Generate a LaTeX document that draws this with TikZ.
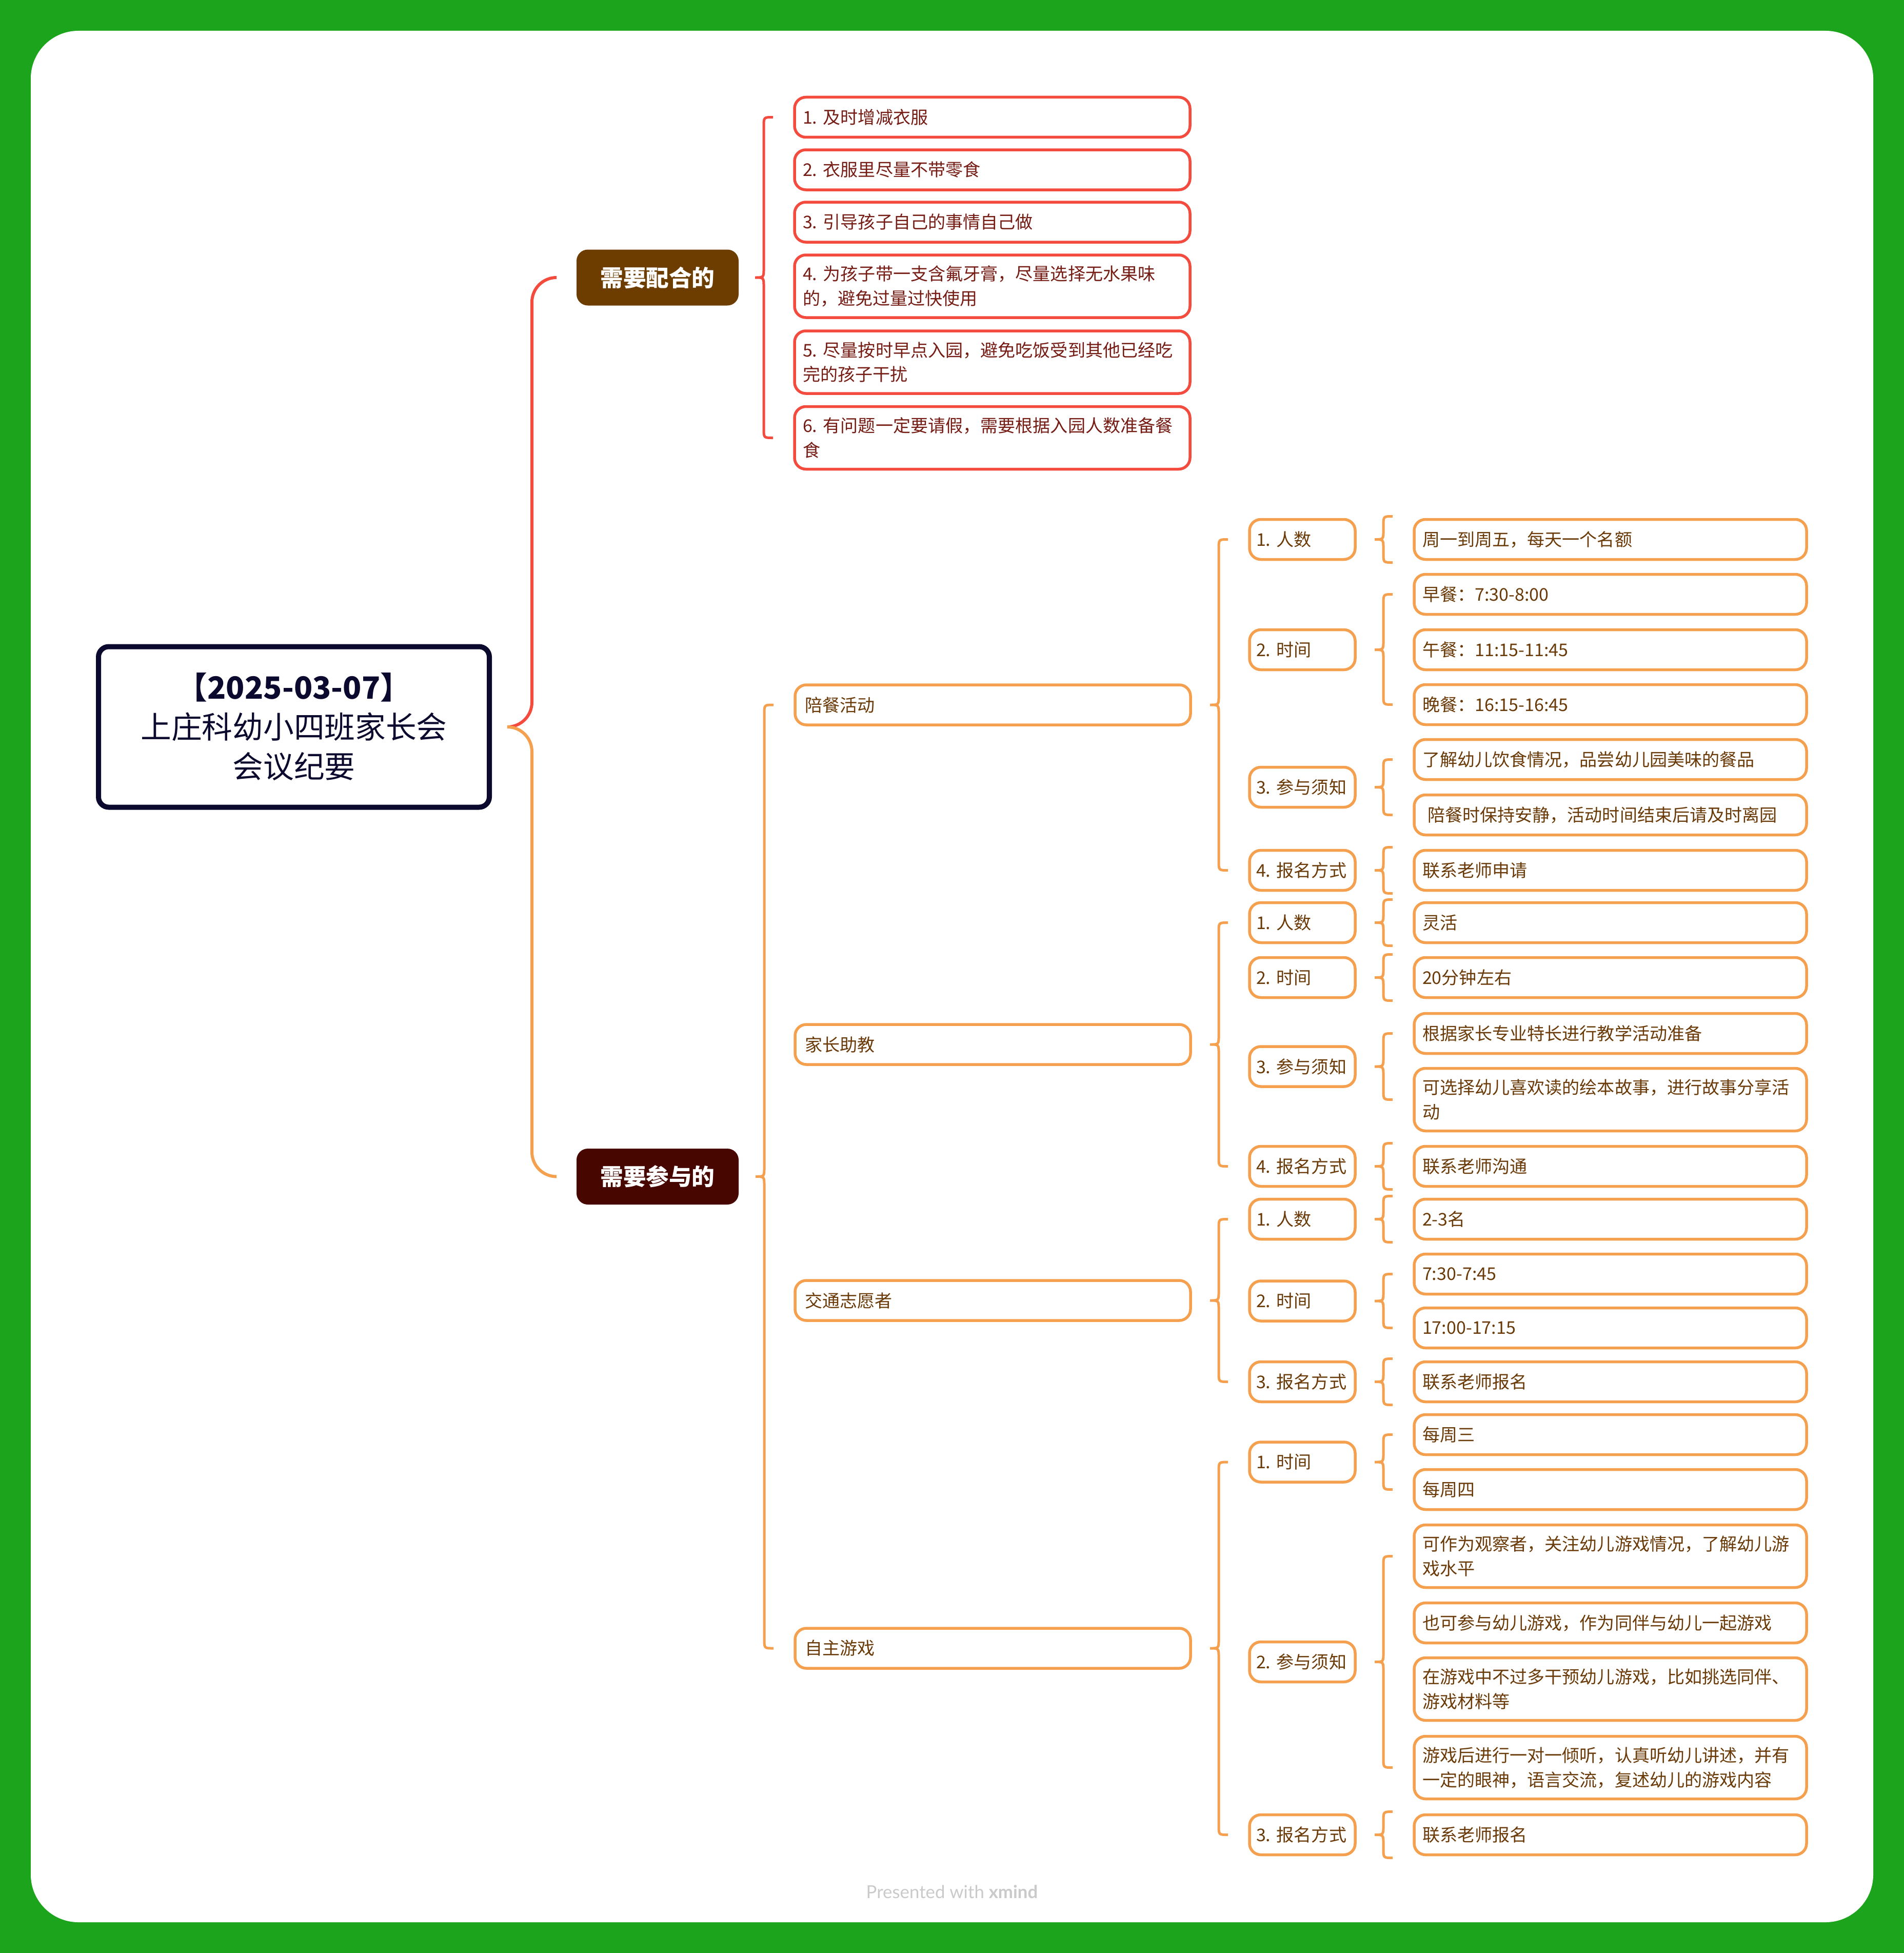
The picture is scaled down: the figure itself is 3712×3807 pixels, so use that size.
\documentclass[tikz,border=0pt]{standalone}
\usepackage{fontspec}
\setmainfont{Noto Sans CJK SC}
\newfontfamily\piedefont{Lato}
\usetikzlibrary{calc}

\definecolor{verde}{HTML}{1CA51C}
\definecolor{blunotte}{HTML}{0B0A2E}
\definecolor{rosso}{HTML}{F44B3F}
\definecolor{arancio}{HTML}{F5A04F}
\definecolor{marrone}{HTML}{6D3D00}
\definecolor{bordeaux}{HTML}{470600}
\definecolor{testorosso}{HTML}{751C14}
\definecolor{testomarrone}{HTML}{6A3A08}
\definecolor{grigio}{HTML}{CACACA}

\newcommand{\spazistretti}{\frenchspacing\spaceskip=2.4pt\relax\xspaceskip=2.4pt\relax}

\tikzset{
  radice/.style={draw=blunotte, line width=1mm, rounded corners=2mm, fill=white, outer sep=0pt,
    minimum width=76.2mm, minimum height=31.3mm, align=center, text=blunotte,
    font=\fontsize{17}{21.9}\selectfont},
  ramo/.style={rounded corners=2.2mm, outer sep=0pt, minimum width=31.6mm, minimum height=10.9mm,
    text=white, font=\fontsize{12.7}{15}\selectfont\bfseries},
  casella/.style={draw=#1, line width=0.55mm, rounded corners=2.2mm, fill=white, outer sep=0pt,
    inner ysep=0pt, minimum height=7.8mm, align=left,
    font=\fontsize{9.7}{13.65}\selectfont\spazistretti},
  voce/.style={casella=rosso, text=testorosso, inner xsep=1.6mm, text width=73.9mm},
  attivita/.style={casella=arancio, text=testomarrone, inner xsep=1.9mm, text width=73.3mm},
  punto/.style={casella=arancio, text=testomarrone, inner xsep=1.3mm, text width=18mm},
  dettaglio/.style={casella=arancio, text=testomarrone, inner xsep=1.6mm, text width=73.3mm},
  doppia/.style={minimum height=12.2mm},
  collega/.style={line width=0.6mm, rounded corners=4.8mm},
  graffarossa/.style={draw=rosso, line width=0.5mm},
  graffaarancio/.style={draw=arancio, line width=0.5mm},
  piede/.style={text=grigio, font=\piedefont\fontsize{9.9}{11}\selectfont}
}

% graffa: [allungo]{stile}{padre}{primo figlio}{ultimo figlio}
\newcommand{\graffa}[5][0]{%
  \draw[#2] ($(#4.west)+(-42,-#1)$) .. controls ($(#4.west)+(-60,-#1)$) .. ($(#4.west)+(-60,18-#1)$)
    -- ($(#4.west |- #3.east)+(-60,-18)$) .. controls ($(#4.west |- #3.east)+(-60,0)$) .. ($(#4.west |- #3.east)+(-77,0)$)
    .. controls ($(#4.west |- #3.east)+(-60,0)$) .. ($(#4.west |- #3.east)+(-60,18)$)
    -- ($(#5.west)+(-60,#1-18)$) .. controls ($(#5.west)+(-60,#1)$) .. ($(#5.west)+(-42,#1)$);}

\begin{document}
\begin{tikzpicture}[x=0.1mm, y=-0.1mm]
  \fill[verde] (0,0) rectangle (3712,3807);
  \fill[white, rounded corners=9.3mm] (60,60) rectangle (3652,3747);

  \node[radice] (root) at (573,1417) {\textbf{【2025-03-07】}\\上庄科幼小四班家长会\\会议纪要};

  \node[ramo, fill=marrone] (b1) at (1282,541) {需要配合的};
  \node[ramo, fill=bordeaux] (b2) at (1282,2293.5) {需要参与的};

  \draw[collega, draw=rosso] ($(root.east)+(35,0)$) -- ++(48,0) |- ($(b1.west)+(-40,0)$); % radice -配合
  \draw[collega, draw=arancio] ($(root.east)+(35,0)$) -- ++(48,0) |- ($(b2.west)+(-40,0)$); % radice - 参与

  %需要配合的
  \node[voce] (r1) at (1934.5,228.5) {1. 及时增减衣服};
  \node[voce] (r2) at (1934.5,331) {2. 衣服里尽量不带零食};
  \node[voce] (r3) at (1934.5,433) {3. 引导孩子自己的事情自己做};
  \node[voce, doppia] (r4) at (1934.5,558) {4. 为孩子带一支含氟牙膏，尽量选择无水果味\\的，避免过量过快使用};
  \node[voce, doppia] (r5) at (1934.5,706) {5. 尽量按时早点入园，避免吃饭受到其他已经吃\\完的孩子干扰};
  \node[voce, doppia] (r6) at (1934.5,853.5) {6. 有问题一定要请假，需要根据入园人数准备餐\\食};
  \graffa{graffarossa}{b1}{r1}{r6}

  % 需要参与的
  \node[attivita] (p1) at (1935.5,1374) {陪餐活动};
  \node[attivita] (p2) at (1935.5,2036) {家长助教};
  \node[attivita] (p3) at (1935.5,2535) {交通志愿者};
  \node[attivita] (p4) at (1935.5,3213) {自主游戏};
  \graffa{graffaarancio}{b2}{p1}{p4}

  % 陪餐活动
  \node[punto] (q11) at (2539,1051.5) {1. 人数};
  \node[punto] (q12) at (2539,1266.5) {2. 时间};
  \node[punto] (q13) at (2539,1534.5) {3. 参与须知};
  \node[punto] (q14) at (2539,1696.5) {4. 报名方式};
  \graffa{graffaarancio}{p1}{q11}{q14}

  \node[dettaglio] (s1) at (3139.5,1051.5) {周一到周五，每天一个名额};
  \node[dettaglio] (s2) at (3139.5,1158.5) {早餐：7:30-8:00};
  \node[dettaglio] (s3) at (3139.5,1266.5) {午餐：11:15-11:45};
  \node[dettaglio] (s4) at (3139.5,1373.5) {晚餐：16:15-16:45};
  \node[dettaglio] (s5) at (3139.5,1480.5) {了解幼儿饮食情况，品尝幼儿园美味的餐品};
  \node[dettaglio] (s6) at (3139.5,1588.5) {\hspace{1mm}陪餐时保持安静，活动时间结束后请及时离园};
  \node[dettaglio] (s7) at (3139.5,1696.5) {联系老师申请};
  \graffa[45]{graffaarancio}{q11}{s1}{s1}
  \graffa{graffaarancio}{q12}{s2}{s4}
  \graffa{graffaarancio}{q13}{s5}{s6}
  \graffa[45]{graffaarancio}{q14}{s7}{s7}

  % 家长助教
  \node[punto] (q21) at (2539,1798.5) {1. 人数};
  \node[punto] (q22) at (2539,1905.5) {2. 时间};
  \node[punto] (q23) at (2539,2079) {3. 参与须知};
  \node[punto] (q24) at (2539,2273.5) {4. 报名方式};
  \graffa{graffaarancio}{p2}{q21}{q24}

  \node[dettaglio] (s8) at (3139.5,1798.5) {灵活};
  \node[dettaglio] (s9) at (3139.5,1905.5) {20分钟左右};
  \node[dettaglio] (s10) at (3139.5,2014.5) {根据家长专业特长进行教学活动准备};
  \node[dettaglio, doppia] (s11) at (3139.5,2143.5) {可选择幼儿喜欢读的绘本故事，进行故事分享活\\动};
  \node[dettaglio] (s12) at (3139.5,2273.5) {联系老师沟通};
  \graffa[45]{graffaarancio}{q21}{s8}{s8}
  \graffa[45]{graffaarancio}{q22}{s9}{s9}
  \graffa{graffaarancio}{q23}{s10}{s11}
  \graffa[45]{graffaarancio}{q24}{s12}{s12}

  % 交通志愿者
  \node[punto] (q31) at (2539,2376.5) {1. 人数};
  \node[punto] (q32) at (2539,2536) {2. 时间};
  \node[punto] (q33) at (2539,2693.5) {3. 报名方式};
  \graffa{graffaarancio}{p3}{q31}{q33}

  \node[dettaglio] (s13) at (3139.5,2376.5) {2-3名};
  \node[dettaglio] (s14) at (3139.5,2483.5) {7:30-7:45};
  \node[dettaglio] (s15) at (3139.5,2588.5) {17:00-17:15};
  \node[dettaglio] (s16) at (3139.5,2693.5) {联系老师报名};
  \graffa[45]{graffaarancio}{q31}{s13}{s13}
  \graffa{graffaarancio}{q32}{s14}{s15}
  \graffa[45]{graffaarancio}{q33}{s16}{s16}

  % 自主游戏
  \node[punto] (q41) at (2539,2850) {1. 时间};
  \node[punto] (q42) at (2539,3239.5) {2. 参与须知};
  \node[punto] (q43) at (2539,3576.5) {3. 报名方式};
  \graffa{graffaarancio}{p4}{q41}{q43}

  \node[dettaglio] (s17) at (3139.5,2796.5) {每周三};
  \node[dettaglio] (s18) at (3139.5,2903.5) {每周四};
  \node[dettaglio, doppia] (s19) at (3139.5,3033.5) {可作为观察者，关注幼儿游戏情况，了解幼儿游\\戏水平};
  \node[dettaglio] (s20) at (3139.5,3163.5) {也可参与幼儿游戏，作为同伴与幼儿一起游戏};
  \node[dettaglio, doppia] (s21) at (3139.5,3292.5) {在游戏中不过多干预幼儿游戏，比如挑选同伴、\\游戏材料等};
  \node[dettaglio, doppia] (s22) at (3139.5,3445.5) {游戏后进行一对一倾听，认真听幼儿讲述，并有\\一定的眼神，语言交流，复述幼儿的游戏内容};
  \node[dettaglio] (s23) at (3139.5,3576.5) {联系老师报名};
  \graffa{graffaarancio}{q41}{s17}{s18}
  \graffa{graffaarancio}{q42}{s19}{s22}
  \graffa[45]{graffaarancio}{q43}{s23}{s23}

  \node[piede] (firma) at (1856,3688) {Presented with \textbf{xmind}};
\end{tikzpicture}
\end{document}
